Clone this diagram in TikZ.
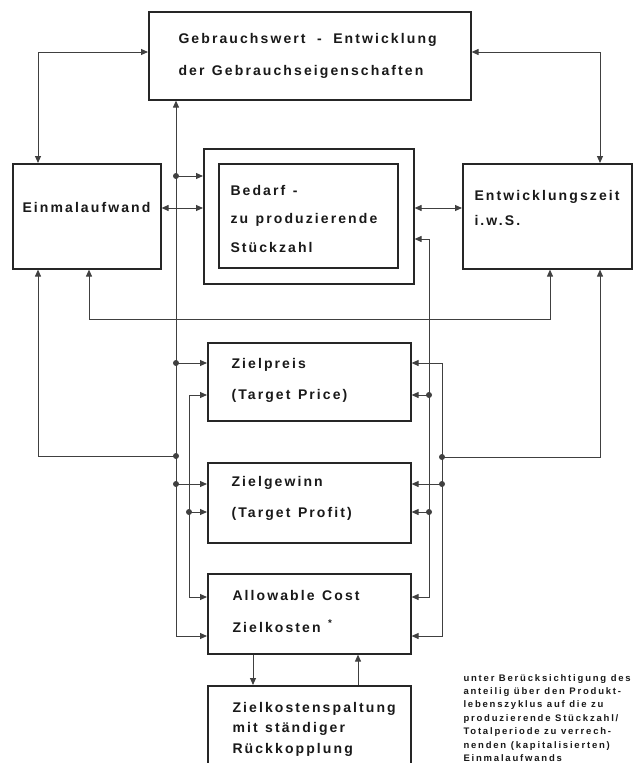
\documentclass[tikz,border=0pt]{standalone}
\usepackage{fontspec}
\setmainfont{Liberation Sans}
\newfontfamily\diafont[LetterSpace=15]{Liberation Sans}
\newfontfamily\notefont[LetterSpace=19]{Liberation Sans}
\usetikzlibrary{arrows.meta,positioning}

\begin{document}
\begin{tikzpicture}[x=1pt,y=-1pt,>={Triangle[length=7pt,width=6pt]},
    line width=1pt,color=black!75,
    box/.style={draw=black!85,line width=1.6pt,anchor=north west,inner sep=0pt},
    txt/.style={anchor=base west,inner sep=0pt,align=left,text width=320pt,
      text=black!90,font=\diafont\bfseries\fontsize{14}{#1}\selectfont,
      execute at begin node={\spaceskip=7.5pt\relax}},
    txt/.default=31,
    note/.style={anchor=base west,inner sep=0pt,align=left,text width=220pt,
      text=black!90,font=\notefont\bfseries\fontsize{9.5}{13.4}\selectfont,
      execute at begin node={\spaceskip=4.5pt\relax}}]
  \clip (0,0) rectangle (633,763);
  \fill[white] (0,0) rectangle (633,763);

  % boxes
  \node[box,minimum width=322,minimum height=88]  (gebr)    at (148,11)  {};
  \node[box,minimum width=148,minimum height=105] (einmal)  at (12,163)  {};
  \node[box,minimum width=210,minimum height=135] (bedarfA) at (203,148) {};
  \node[box,minimum width=179,minimum height=104] (bedarf)  at (218,163) {};
  \node[box,minimum width=169,minimum height=105] (entw)    at (462,163) {};
  \node[box,minimum width=203,minimum height=78]  (preis)   at (207,342) {};
  \node[box,minimum width=203,minimum height=80]  (gewinn)  at (207,462) {};
  \node[box,minimum width=203,minimum height=80]  (kosten)  at (207,573) {};
  \node[box,minimum width=203,minimum height=100] (spalt)   at (207,685) {};

  % texts
  \node[txt=32] (gebrT) at ([shift={(30,32)}]gebr.north west)
    {Gebrauchswert\hspace{4pt} - \hspace{4pt}Entwicklung\\der Gebrauchseigenschaften};
  \node[txt] (einmalT) at ([shift={(10,49)}]einmal.north west) {Einmalaufwand};
  \node[txt=28.5] (bedarfT) at ([shift={(12,32)}]bedarf.north west)
    {Bedarf -\\zu produzierende\\Stückzahl};
  \node[txt=25] (entwT) at ([shift={(12,37)}]entw.north west)
    {Entwicklungszeit\\i.w.S.};
  \node[txt] (preisT) at ([shift={(24,26)}]preis.north west)
    {Zielpreis\\(Target Price)};
  \node[txt] (gewinnT) at ([shift={(24,24)}]gewinn.north west)
    {Zielgewinn\\(Target Profit)};
  \node[txt=32] (kostenT) at ([shift={(25,27)}]kosten.north west)
    {Allowable Cost\\Zielkosten \textsuperscript{*}};
  \node[txt=20.5] (spaltT) at ([shift={(25,27)}]spalt.north west)
    {Zielkostenspaltung\\mit ständiger\\Rückkopplung};
  \node[note] (fn) at (463,681)
    {unter Berücksichtigung des\\anteilig über den Produkt-\\lebenszyklus auf die zu\\
     produzierende Stückzahl/\\Totalperiode zu verrech-\\nenden (kapitalisierten)\\Einmalaufwands};

  % top loop
  \coordinate (tl) at (38,52);
  \coordinate (tr) at (600,52);
  \draw[<->] (tl -| gebr.west) -- (tl) -- (tl |- einmal.north);
  \draw[<->] (tr -| gebr.east) -- (tr) -- (tr |- entw.north);

  % middle row
  \coordinate (mid) at (0,208);
  \draw[<->] (mid -| einmal.east) -- (mid -| bedarfA.west);
  \draw[<->] (mid -| bedarfA.east) -- (mid -| entw.west);
  \draw[<->] (einmal.south -| 89,0) |- (550,319) -- (entw.south -| 550,0);

  % left buses
  \draw[<->] (gebr.south -| 176,0) -- (176,636) -- (kosten.west |- 0,636);
  \draw[<->] (preis.west |- 0,395) -| (189,597) -- (kosten.west |- 0,597);
  \foreach \y/\n in {176/bedarfA,363/preis,484/gewinn}{
    \fill (176,\y) circle (3);
    \draw[->] (176,\y) -- (\n.west |- 0,\y);
  }
  \fill (189,512) circle (3);
  \draw[->] (189,512) -- (gewinn.west |- 0,512);
  \fill (176,456) circle (3);
  \draw[->] (176,456) -| (einmal.south -| 38,0);

  % right buses
  \draw[<->] (bedarfA.east |- 0,239) -| (429,597) -- (kosten.east |- 0,597);
  \draw[<->] (preis.east |- 0,363) -| (442,636) -- (kosten.east |- 0,636);
  \foreach \y/\n in {395/preis,512/gewinn}{
    \fill (429,\y) circle (3);
    \draw[->] (429,\y) -- (\n.east |- 0,\y);
  }
  \fill (442,484) circle (3);
  \draw[->] (442,484) -- (gewinn.east |- 0,484);
  \fill (442,457) circle (3);
  \draw[->] (442,457) -| (entw.south -| 600,0);

  % feedback
  \draw[->] (kosten.south -| 253,0) -- (spalt.north -| 253,0);
  \draw[->] (spalt.north -| 358,0) -- (kosten.south -| 358,0);
\end{tikzpicture}
\end{document}
